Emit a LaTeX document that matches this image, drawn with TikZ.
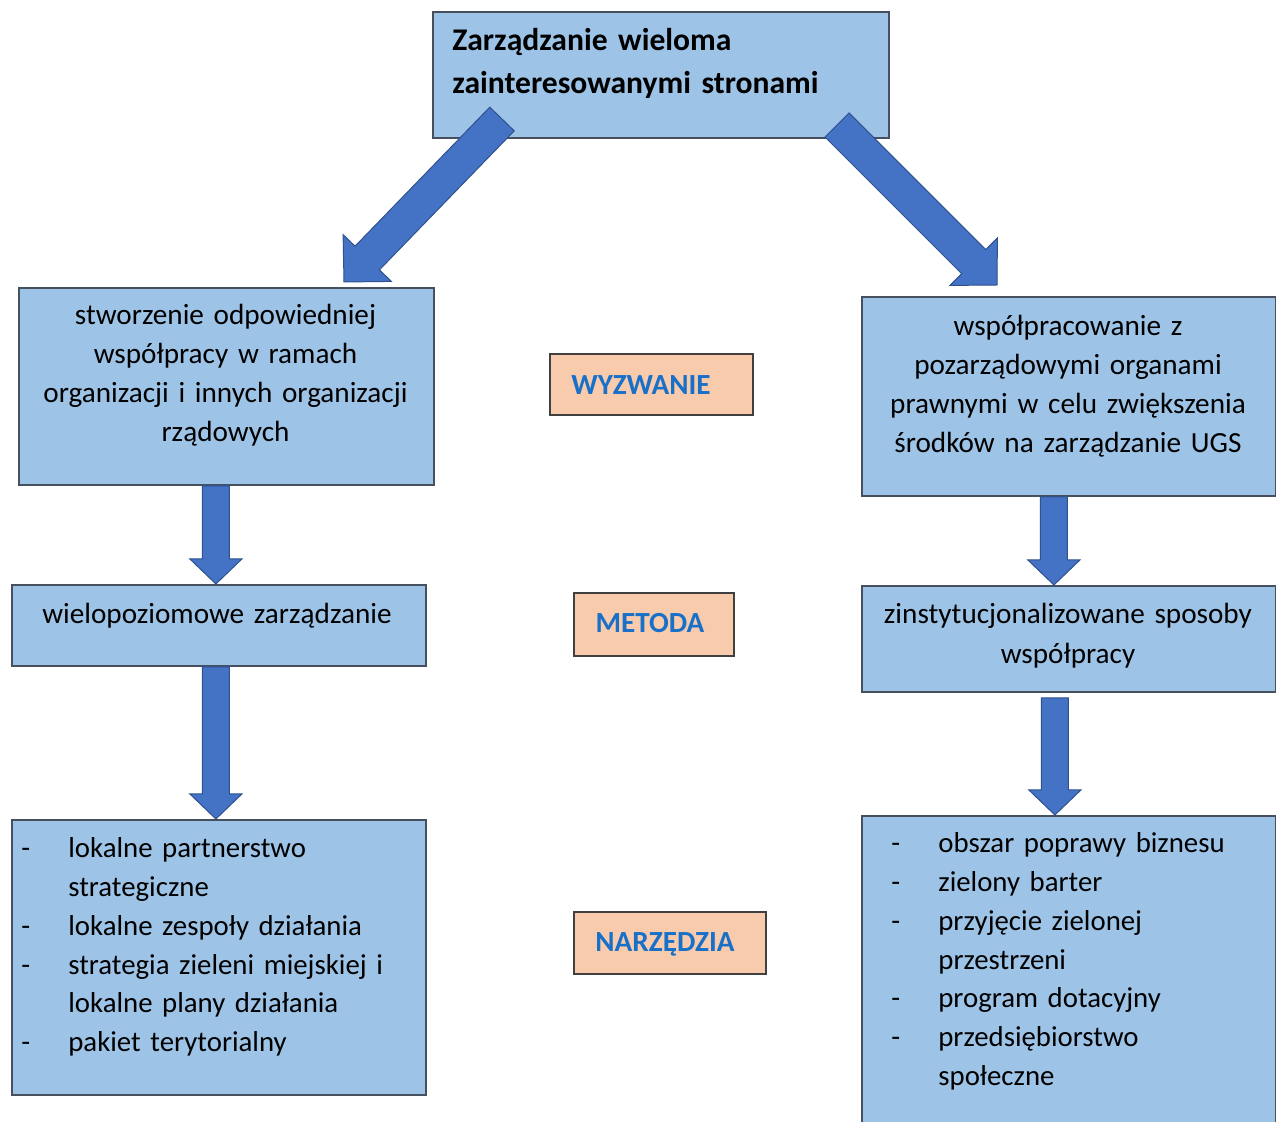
\documentclass[tikz,border=0pt]{standalone}
\usepackage{fontspec}
\setmainfont{Carlito}
\usetikzlibrary{calc}
\definecolor{boxblue}{RGB}{157,195,230}
\definecolor{boxedge}{RGB}{70,80,95}
\definecolor{arrowblue}{RGB}{68,114,196}
\definecolor{arrowedge}{RGB}{47,82,143}
\definecolor{labfill}{RGB}{248,203,173}
\definecolor{labedge}{RGB}{64,64,64}
\definecolor{labtext}{RGB}{24,112,200}
\tikzset{
  bw/.store in=\bw, hw/.store in=\hw, hl/.store in=\hl,
  bw=6.75pt, hw=13pt, hl=12.5pt,
  blockarrow/.style={fill=arrowblue, draw=arrowedge, line width=0.5pt, line join=miter,
    to path={
      ($(\tikztostart)!\bw!90:(\tikztotarget)$)
      -- ($($(\tikztotarget)!\hl!(\tikztostart)$)!\bw!-90:(\tikztostart)$)
      -- ($($(\tikztotarget)!\hl!(\tikztostart)$)!\hw!-90:(\tikztostart)$)
      -- (\tikztotarget)
      -- ($($(\tikztotarget)!\hl!(\tikztostart)$)!\hw!90:(\tikztostart)$)
      -- ($($(\tikztotarget)!\hl!(\tikztostart)$)!\bw!90:(\tikztostart)$)
      -- ($(\tikztostart)!\bw!-90:(\tikztotarget)$)
      -- cycle}},
  bluebox/.style={draw=boxedge, fill=boxblue, line width=0.9pt, inner sep=0pt, anchor=north west},
  labbox/.style={draw=labedge, fill=labfill, line width=0.9pt, inner sep=0pt, anchor=north west},
  bodytext/.style={font=\fontsize{14.6}{19.35}\selectfont, inner sep=0pt, anchor=base, align=center},
  listtext/.style={font=\fontsize{14.4}{19.35}\selectfont, inner sep=0pt, anchor=base west, align=left, text width=200pt},
  labtxt/.style={font=\fontsize{14.6}{16}\selectfont\bfseries, text=labtext, inner sep=0pt, anchor=base},
}
\newcommand{\dashitem}{\makebox[23.5pt][l]{-}}
\newcommand{\dashcont}{\hspace*{23.5pt}}
\begin{document}
\begin{tikzpicture}[x=0.5pt, y=-0.5pt]
\useasboundingbox (0,0) rectangle (1276,1122);
% boxes
\node[bluebox, minimum width=228pt, minimum height=63pt] (top) at (432,11) {};
\node[bluebox, minimum width=207.5pt, minimum height=98.5pt] (l1) at (18,287) {};
\node[bluebox, minimum width=207pt, minimum height=99.5pt] (r1) at (861,296) {};
\node[bluebox, minimum width=207pt, minimum height=40.5pt] (l2) at (11,584) {};
\node[bluebox, minimum width=207pt, minimum height=53pt] (r2) at (861,585) {};
\node[bluebox, minimum width=207pt, minimum height=137.5pt] (l3) at (11,819) {};
\node[bluebox, minimum width=207pt, minimum height=155pt] (r3) at (861,815) {};
\node[labbox, minimum width=101.5pt, minimum height=30.5pt] (wyz) at (549,353) {};
\node[labbox, minimum width=80pt, minimum height=31.5pt] (met) at (573,592) {};
\node[labbox, minimum width=96pt, minimum height=31pt] (nar) at (573,911) {};
% texts
\node[font=\fontsize{15.8}{21.3}\selectfont\bfseries, inner sep=0pt, anchor=base west, align=left, text width=220pt] (toptext) at (452,51) {Zarządzanie wieloma\\zainteresowanymi stronami};
\node[bodytext, text width=205pt] (l1text) at (225.5,325) {stworzenie odpowiedniej\\współpracy w ramach\\organizacji i innych organizacji\\rządowych};
\node[bodytext, text width=205pt] (r1text) at (1068,336) {współpracowanie z\\pozarządowymi organami\\prawnymi w celu zwiększenia\\środków na zarządzanie UGS};
\node[bodytext, text width=205pt] (l2text) at (217,624) {wielopoziomowe zarządzanie};
\node[bodytext, text width=205pt, font=\fontsize{14.6}{20}\selectfont] (r2text) at (1068,624) {zinstytucjonalizowane sposoby\\współpracy};
\node[listtext] (l3text) at (21,858) {\dashitem lokalne partnerstwo\\\dashcont strategiczne\\\dashitem lokalne zespoły działania\\\dashitem strategia zieleni miejskiej i\\\dashcont lokalne plany działania\\\dashitem pakiet terytorialny};
\node[listtext] (r3text) at (891,853) {\dashitem obszar poprawy biznesu\\\dashitem zielony barter\\\dashitem przyjęcie zielonej\\\dashcont przestrzeni\\\dashitem program dotacyjny\\\dashitem przedsiębiorstwo\\\dashcont społeczne};
\node[labtxt] (wyztext) at (641,395) {WYZWANIE};
\node[labtxt] (mettext) at (650,633) {METODA};
\node[labtxt] (nartext) at (665,952) {NARZĘDZIA};
% arrow anchors
\coordinate (dlS) at (502,119);
\coordinate (dlE) at (344,282);
\coordinate (drS) at (837,125);
\coordinate (drE) at (997,285);
\coordinate (v1S) at ($(l1.south)+(-10.5,0)$);
\coordinate (v1E) at ($(l2.north)+(-3,0)$);
\coordinate (v2S) at ($(l2.south)+(-3,0)$);
\coordinate (v2E) at ($(l3.north)+(-3,0)$);
\coordinate (v3S) at ($(r1.south)+(-15,0)$);
\coordinate (v3E) at ($(r2.north)+(-15,0)$);
\coordinate (v4S) at ($(r2.south)+(-14,5)$);
\coordinate (v4E) at ($(r3.north)+(-14,0)$);
% arrows
\draw[blockarrow, bw=8.5pt, hw=16.8pt, hl=16.7pt] (dlS) to (dlE);
\draw[blockarrow, bw=8.5pt, hw=16.8pt, hl=16.5pt] (drS) to (drE);
\draw[blockarrow] (v1S) to (v1E);
\draw[blockarrow] (v2S) to (v2E);
\draw[blockarrow] (v3S) to (v3E);
\draw[blockarrow] (v4S) to (v4E);
\end{tikzpicture}
\end{document}
